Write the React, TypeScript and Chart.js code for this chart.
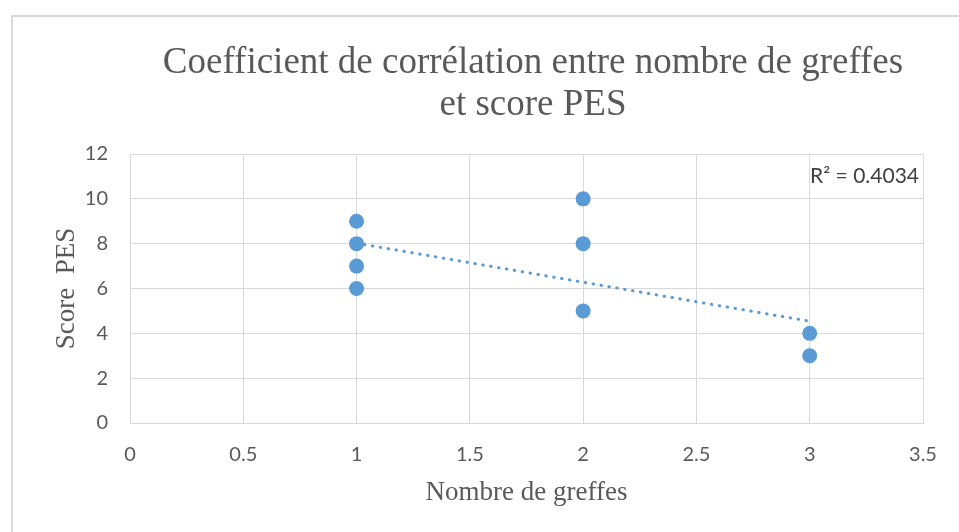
import { useEffect, useRef } from "react";
import { Chart, registerables } from "chart.js";

Chart.register(...registerables);

// ---- data ----
const xValues = [1, 1, 1, 1, 2, 2, 2, 3, 3];
const yValues = [9, 8, 7, 6, 10, 8, 5, 4, 3];
const xTicks = [0, 0.5, 1, 1.5, 2, 2.5, 3, 3.5];
const yTicks = [0, 2, 4, 6, 8, 10, 12];
const titleLines = ["Coefficient de corrélation entre nombre de greffes", "et score PES"];
const xTitle = "Nombre de greffes";
const yTitle = "Score  PES";
const r2Label = "R² = 0.4034";

const BLUE = "#5b9bd5";
const GRID = "#d9d9d9";
const TEXT = "#595959";
const SERIF = "'Liberation Serif', 'Times New Roman', serif";
const SANS = "Lato, 'Open Sans', sans-serif";

function linearFit(xs: number[], ys: number[]) {
  const n = xs.length;
  const mx = xs.reduce((a, b) => a + b, 0) / n;
  const my = ys.reduce((a, b) => a + b, 0) / n;
  let sxy = 0;
  let sxx = 0;
  for (let i = 0; i < n; i++) {
    sxy += (xs[i] - mx) * (ys[i] - my);
    sxx += (xs[i] - mx) * (xs[i] - mx);
  }
  const slope = sxy / sxx;
  return { slope, intercept: my - slope * mx };
}

export default function App() {
  const ref = useRef<HTMLCanvasElement | null>(null);

  useEffect(() => {
    if (!ref.current) return;
    const fit = linearFit(xValues, yValues);
    const xMin = Math.min(...xValues);
    const xMax = Math.max(...xValues);
    const trend = [xMin, xMax].map((x) => ({ x, y: fit.intercept + fit.slope * x }));
    const points = xValues.map((x, i) => ({ x, y: yValues[i] }));

    const overlay = {
      id: "overlay",
      afterDraw(chart: any) {
        const ctx = chart.ctx;
        const area = chart.chartArea;
        ctx.save();
        ctx.fillStyle = TEXT;
        ctx.textAlign = "center";
        ctx.textBaseline = "alphabetic";
        ctx.font = `37px ${SERIF}`;
        ctx.fillText(titleLines[0], 533, 73);
        ctx.fillText(titleLines[1], 533, 115);
        ctx.fillStyle = "#404040";
        ctx.textAlign = "right";
        ctx.textBaseline = "middle";
        ctx.font = `21px ${SANS}`;
        ctx.fillText(r2Label, area.right - 4, area.top + 22);
        ctx.restore();
      },
    };

    const chart = new Chart(ref.current, {
      type: "scatter",
      data: {
        datasets: [
          {
            type: "line",
            data: trend,
            borderColor: BLUE,
            borderWidth: 3,
            borderDash: [0.5, 7.5],
            borderCapStyle: "round",
            pointRadius: 0,
            fill: false,
            order: 2,
          } as any,
          {
            data: points,
            backgroundColor: BLUE,
            borderWidth: 0,
            pointRadius: 7.5,
            order: 1,
          },
        ],
      },
      options: {
        animation: false,
        responsive: false,
        maintainAspectRatio: false,
        layout: { padding: { left: 0, top: 154, right: 36, bottom: 0 } },
        plugins: {
          legend: { display: false },
          tooltip: { enabled: false },
          title: { display: false },
        },
        scales: {
          x: {
            type: "linear",
            min: 0,
            max: 3.5,
            afterFit: (s: any) => {
              s.height = 109;
            },
            afterBuildTicks: (s: any) => {
              s.ticks = xTicks.map((v) => ({ value: v }));
            },
            grid: { color: GRID, lineWidth: 1, drawTicks: false },
            border: { color: GRID, width: 1 },
            ticks: {
              color: TEXT,
              font: { family: SANS, size: 20 },
              padding: 20,
              maxRotation: 0,
              callback: (v: any) => String(v),
            },
            title: {
              display: true,
              text: xTitle,
              color: TEXT,
              font: { family: SERIF, size: 27 },
              padding: { top: 0, bottom: 23 },
            },
          },
          y: {
            type: "linear",
            min: 0,
            max: 12,
            afterFit: (s: any) => {
              s.width = 130;
            },
            afterBuildTicks: (s: any) => {
              s.ticks = yTicks.map((v) => ({ value: v }));
            },
            grid: { color: GRID, lineWidth: 1, drawTicks: false },
            border: { color: GRID, width: 1 },
            ticks: {
              color: TEXT,
              font: { family: SANS, size: 20 },
              padding: 22,
              callback: (v: any) => String(v),
            },
            title: {
              display: true,
              text: yTitle,
              color: TEXT,
              font: { family: SERIF, size: 27 },
              padding: { top: 51, bottom: 0 },
            },
          },
        },
      },
      plugins: [overlay],
    });
    return () => chart.destroy();
  }, []);

  return (
    <div
      style={{
        position: "absolute",
        left: 0,
        top: 0,
        width: 959,
        height: 532,
        overflow: "hidden",
        background: "#ffffff",
      }}
    >
      <div
        style={{
          position: "absolute",
          left: 11,
          top: 15,
          width: 1000,
          height: 600,
          borderLeft: `2px solid ${GRID}`,
          borderTop: `2px solid ${GRID}`,
        }}
      />
      <canvas
        ref={ref}
        width={959}
        height={532}
        style={{ position: "absolute", left: 0, top: 0, width: 959, height: 532 }}
      />
    </div>
  );
}
